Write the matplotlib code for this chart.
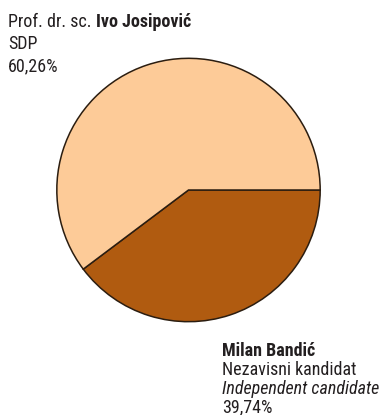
import matplotlib
matplotlib.use("Agg")
import matplotlib.pyplot as plt

candidates = ["Ivo Josipović", "Milan Bandić"]
shares = [60.26, 39.74]
colors = ["#FDCB98", "#B05B10"]

plt.rcParams['font.family'] = ['Roboto Condensed', 'Liberation Sans Narrow', 'DejaVu Sans']

fig = plt.figure(figsize=(3.82, 4.15), dpi=100)
W, H = 382, 415

# pie sits in a square box, pixel coords from the top-left corner
left, top, right, bottom = 55, 57, 322, 323
ax = fig.add_axes([left / W, 1 - bottom / H, (right - left) / W, (bottom - top) / H])
ax.pie(shares[::-1], colors=colors[::-1], startangle=0, counterclock=False,
       radius=1, wedgeprops=dict(edgecolor="#2b1d10", linewidth=1.1))
ax.set_xlim(-1.01, 1.01)
ax.set_ylim(-1.01, 1.01)
ax.set_aspect("equal")
ax.axis("off")

fs = 13
ink = "#231f20"
r = fig.canvas.get_renderer()

# top-left label: regular prefix, bold name
t = fig.text(8 / W, 1 - 27 / H, "Prof. dr. sc. ", fontsize=fs, color=ink)
bb = t.get_window_extent(renderer=r)
fig.text(bb.x1 / W, 1 - 27 / H, candidates[0], fontsize=fs, fontweight="bold", color=ink)
fig.text(8 / W, 1 - 49 / H, "SDP", fontsize=fs, color=ink)
fig.text(8 / W, 1 - 71 / H, f"{shares[0]:.2f}%".replace(".", ","), fontsize=fs, color=ink)

# bottom-right label
x2 = 222 / W
fig.text(x2, 1 - 356 / H, candidates[1], fontsize=fs, fontweight="bold", color=ink)
fig.text(x2, 1 - 375 / H, "Nezavisni kandidat", fontsize=fs, color=ink)
fig.text(x2, 1 - 394 / H, "Independent candidate", fontsize=fs, style="italic", color=ink)
fig.text(x2, 1 - 412 / H, f"{shares[1]:.2f}%".replace(".", ","), fontsize=fs, color=ink)

fig.savefig("out.png", dpi=100)
